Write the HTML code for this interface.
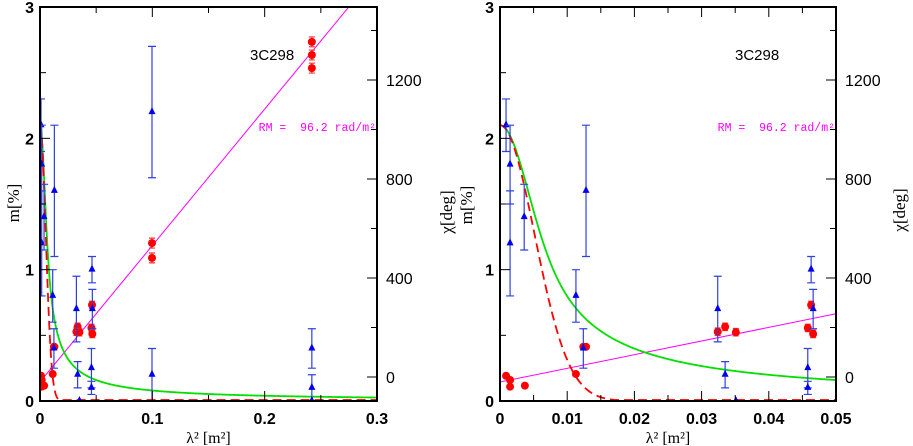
<!DOCTYPE html>
<html><head><meta charset="utf-8"><style>
html,body{margin:0;padding:0;background:#fff;}
svg{display:block;font-family:"Liberation Sans",sans-serif;}
text{white-space:pre;}
</style></head><body>
<svg id="chart" width="913" height="446" viewBox="0 0 913 446"></svg>
<script>
// ---- data ----
const mLam = [0.0009,0.0015,0.0015,0.0036,0.0113,0.0124,0.0128,0.0324,0.0335,0.0351,0.0458,0.0458,0.0463,0.0466,0.0997,0.0997,0.242,0.242,0.242];
const mVal = [2.1,1.8,1.2,1.4,0.8,0.4,1.6,0.7,0.2,0.0,0.25,0.1,1.0,0.7,2.2,0.2,0.4,0.1,0.0];
const mErr = [0.2,0.3,0.4,0.25,0.2,0.15,0.5,0.25,0.1,0.0,0.15,0.05,0.1,0.15,0.5,0.2,0.15,0.1,0.0];
const chiLam = [0.0009,0.0015,0.0015,0.0037,0.0113,0.0124,0.0128,0.0324,0.0335,0.0351,0.0458,0.0463,0.0466,0.0997,0.0997,0.242,0.242,0.242];
const chiVal = [5,-12,-39,-35,12,122,122,183,203,181,198,291,174,541,481,1354,1301,1248];
const chiErr = [8,8,8,8,8,8,8,15,15,15,15,15,15,20,20,20,20,20];
const xTicksL = [0,0.1,0.2,0.3];
const xTicksR = [0,0.01,0.02,0.03,0.04,0.05];
const yTicks = [0,1,2,3];
const degTicks = [0,400,800,1200];
const RM = 96.2, chi0 = -20, m0 = 2.1;

const svg = document.getElementById('chart');
const NS = 'http://www.w3.org/2000/svg';
function mk(tag, attrs, parent){const e=document.createElementNS(NS,tag);for(const k in attrs)e.setAttribute(k,attrs[k]);(parent||svg).appendChild(e);return e;}

const yTop=7, yBot=401;
const yM = v => yBot - v*(yBot-yTop)/3;
const yD = d => 377 - d*0.2475;
const burn = l => { const S=Math.pow(l/0.0038,2); return S<1e-9? m0 : m0*Math.sqrt((1-Math.exp(-S))/S); };
const gauss = l => m0*Math.exp(-Math.pow(l/0.00725,2));

function panel(name, x0, x1, xmax, xTicks, xMinor, fmt, labelX){
  const g = mk('g',{});
  
  
  const X = v => x0 + v*(x1-x0)/xmax;
  const clip = 'clip-'+name;
  const cp = mk('clipPath',{id:clip},g); mk('rect',{x:x0,y:yTop,width:x1-x0,height:yBot-yTop},cp);
  const pg = mk('g',{'clip-path':'url(#'+clip+')'},g);
  const rm = mk('line',{x1:X(0),y1:yD(chi0),x2:X(xmax),y2:yD(chi0+RM*57.2958*xmax),stroke:'#ff00ff','stroke-width':1},pg);
   
  let pb='',pr='';
  for(let i=0;i<=600;i++){const l=xmax*i/600; pb+=(i?'L':'M')+X(l).toFixed(2)+' '+yM(burn(l)).toFixed(2); pr+=(i?'L':'M')+X(l).toFixed(2)+' '+Math.min(yM(gauss(l)),yBot-1).toFixed(2);}
  const cg = mk('path',{d:pb,fill:'none',stroke:'#00e000','stroke-width':1.8},pg);
   
  const cr = mk('path',{d:pr,fill:'none',stroke:'#ff0000','stroke-width':1.8,'stroke-dasharray':'9,5'},pg);
   
  chiLam.forEach((l,i)=>{ if(l>xmax) return; const x=X(l),y=yD(chiVal[i]),e=chiErr[i]*0.2475;
    const gg=mk('g',{},pg);
     
    mk('path',{d:`M${x} ${y-e}V${y+e}M${x-3} ${y-e}H${x+3}M${x-3} ${y+e}H${x+3}`,stroke:'#ff3030','stroke-width':1.2},gg);
    mk('circle',{cx:x,cy:y,r:4,fill:'#ff0000'},gg);
  });
  mLam.forEach((l,i)=>{ if(l>xmax) return; const x=X(l),y=yM(mVal[i]),e=mErr[i]*(yBot-yTop)/3;
    const gg=mk('g',{},pg);
     
    if(e>0) mk('path',{d:`M${x} ${y-e}V${Math.min(y+e,yBot)}M${x-4} ${y-e}H${x+4}M${x-4} ${y+e}H${x+4}`,stroke:'#3040e0','stroke-width':1.2},gg);
    mk('path',{d:`M${x} ${y-5}L${x+3.5} ${y+2}L${x-3.5} ${y+2}Z`,fill:'#0000ee'},gg);
  });
  mk('rect',{x:x0,y:yTop,width:x1-x0,height:yBot-yTop,fill:'none',stroke:'#000','stroke-width':2},g);
  for(let v=0; v<=xmax+1e-9; v+=xMinor){ const x=X(v); const major=xTicks.some(t=>Math.abs(t-v)<1e-9); const L=major?10:6;
    mk('line',{x1:x,y1:yBot,x2:x,y2:yBot-L,stroke:'#000','stroke-width':1},g);
    mk('line',{x1:x,y1:yTop,x2:x,y2:yTop+L,stroke:'#000','stroke-width':1},g);}
  xTicks.forEach(t=>{const tx=mk('text',{x:X(t),y:424,'text-anchor':'middle','font-size':16,'font-weight':'bold'},g); tx.textContent=fmt(t);
     });
  for(let v=0; v<=3; v+=0.5){const y=yM(v); const L=(v%1===0)?10:6; mk('line',{x1:x0,y1:y,x2:x0+L,y2:y,stroke:'#000'},g);}
  yTicks.forEach(t=>{const tx=mk('text',{x:x0-6,y:yM(t)+6,'text-anchor':'end','font-size':16,'font-weight':'bold'},g); tx.textContent=t;
     });
  for(let d=0; d<=1400; d+=200){const y=yD(d); const L=(d%400===0)?10:6; mk('line',{x1:x1,y1:y,x2:x1-L,y2:y,stroke:'#000'},g);}
  degTicks.forEach(t=>{const tx=mk('text',{x:x1+9,y:yD(t)+6,'font-size':16},g); tx.textContent=t;
     });
  const xl=mk('text',{x:(x0+x1)/2,y:443,'text-anchor':'middle','font-size':16,'font-family':'Liberation Serif, serif'},g); xl.textContent='λ² [m²]';
   
  const src=mk('text',{x:labelX,y:60,'font-size':15},g); src.textContent='3C298';
   
  const rmt=mk('text',{x:x1-1,y:131,'text-anchor':'end','font-size':11.5,fill:'#ff00ff','font-family':'Liberation Mono, monospace'},g); rmt.textContent='RM =  96.2 rad/m²';
   
}
panel('left-panel',40,377,0.3,xTicksL,0.05,t=>t===0?'0':t.toFixed(1),250);
panel('right-panel',500,836,0.05,xTicksR,0.005,t=>t===0?'0':t.toFixed(2),735);

function rot(txt,x,y,name){const t=mk('text',{x:x,y:y,'text-anchor':'middle','font-size':17,'font-family':'Liberation Serif, serif',transform:`rotate(-90 ${x} ${y})`}); t.textContent=txt;
   }
rot('m[%]',19,203,'left-y-axis-title');
rot('χ[deg]',452,212,'left-panel-right-axis-title');
rot('m[%]',472,205,'right-panel-y-axis-title');
rot('χ[deg]',905,210,'right-panel-right-axis-title');
</script>
</body></html>
